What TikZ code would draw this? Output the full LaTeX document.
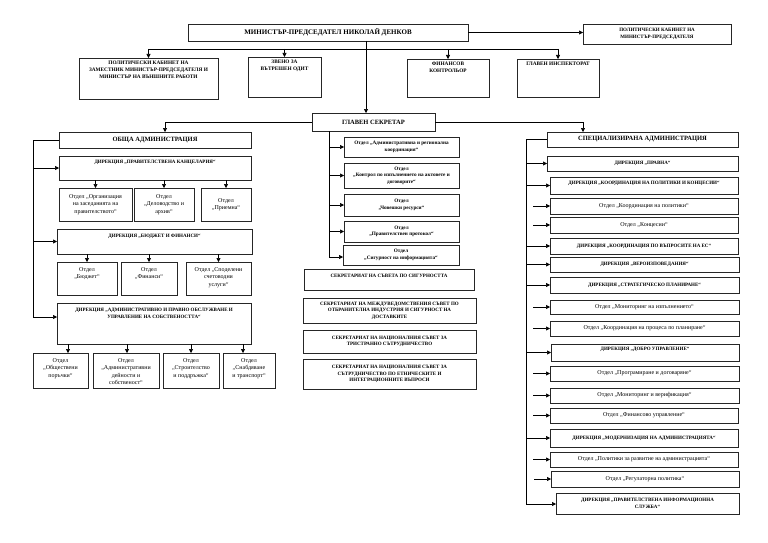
\documentclass[tikz,border=0pt]{standalone}
\usepackage{fontspec}
\setmainfont{Liberation Serif}
\usetikzlibrary{arrows.meta}
\newcommand\fpm{\bfseries\fontsize{7}{8}\selectfont}
\newcommand\fmidb{\bfseries\fontsize{6.5}{7.5}\selectfont}
\newcommand\fsmb{\bfseries\fontsize{5}{6.5}\selectfont}
\newcommand\ftopb{\bfseries\fontsize{5.3}{6.8}\selectfont}
\newcommand\fmb{\bfseries\fontsize{5.2}{6.6}\selectfont}
\newcommand\freg{\fontsize{6}{7.6}\selectfont}
\tikzset{
  boxst/.style={draw=black!85, line width=0.7pt, rectangle, inner sep=0pt, outer sep=0pt},
  txt/.style={align=center, inner sep=0pt, text=black},
  conn/.style={draw=black, line width=0.6pt},
  arr/.style={conn, -{Triangle[length=4pt,width=4pt]}}
}
\newcommand\bx[7]{%
  \node[boxst, anchor=north west, minimum width={(#4-#2)*1pt}, minimum height={(#5-#3)*1pt}] (#1) at (#2,#3) {};
  \node[txt, font=#6] (#1t) at (#1.center) {#7};}
\newcommand\bxt[8]{%
  \node[boxst, anchor=north west, minimum width={(#4-#2)*1pt}, minimum height={(#5-#3)*1pt}] (#1) at (#2,#3) {};
  \node[txt, font=#6, anchor=north] (#1t) at ([yshift=-#8pt]#1.north) {#7};}
\begin{document}
\begin{tikzpicture}[x=1pt,y=-1pt]
\fill[white] (0,0) rectangle (768,543);
\useasboundingbox (0,0) rectangle (768,543);
% top
\bx{pm}{188}{24}{468}{41}{\fpm}{МИНИСТЪР-ПРЕДСЕДАТЕЛ НИКОЛАЙ ДЕНКОВ}
\bx{pcpm}{583}{24}{731}{44}{\fsmb}{ПОЛИТИЧЕСКИ КАБИНЕТ НА\\МИНИСТЪР-ПРЕДСЕДАТЕЛЯ}
\bxt{pcz}{79}{58}{218}{99}{\ftopb}{ПОЛИТИЧЕСКИ КАБИНЕТ НА\\ЗАМЕСТНИК МИНИСТЪР-ПРЕДСЕДАТЕЛЯ И\\МИНИСТЪР НА ВЪНШНИТЕ РАБОТИ}{3}
\bxt{audit}{248}{57}{321}{97}{\ftopb}{ЗВЕНО ЗА\\ВЪТРЕШЕН ОДИТ}{3}
\bxt{fin}{407}{59}{489}{97}{\ftopb}{ФИНАНСОВ\\КОНТРОЛЬОР}{3}
\bxt{insp}{517}{59}{599}{97}{\ftopb}{ГЛАВЕН ИНСПЕКТОРАТ}{3}
\bx{gs}{312}{113}{435}{131}{\fmidb}{ГЛАВЕН СЕКРЕТАР}
% left
\bx{oa}{59}{132}{251}{148}{\fmidb}{ОБЩА АДМИНИСТРАЦИЯ}
\bxt{dpk}{59}{156}{251}{180}{\fsmb}{ДИРЕКЦИЯ „ПРАВИТЕЛСТВЕНА КАНЦЕЛАРИЯ“}{4}
\bx{o1}{59}{188}{132}{221}{\freg}{Отдел „Организация\\на заседанията на\\правителството“}
\bx{o2}{134}{188}{194}{221}{\freg}{Отдел\\„Деловодство и\\архив“}
\bx{o3}{201}{188}{251}{221}{\freg}{Отдел\\„Приемна“}
\bxt{dbf}{57}{229}{252}{254}{\fsmb}{ДИРЕКЦИЯ „БЮДЖЕТ И ФИНАНСИ“}{5}
\bxt{f1}{57}{262}{117}{295}{\freg}{Отдел\\„Бюджет“}{5}
\bxt{f2}{121}{262}{177}{295}{\freg}{Отдел\\„Финанси“}{5}
\bxt{f3}{186}{262}{251}{295}{\freg}{Отдел „Споделени\\счетоводни\\услуги“}{5}
\bxt{dap}{57}{303}{251}{344}{\fsmb}{ДИРЕКЦИЯ „АДМИНИСТРАТИВНО И ПРАВНО ОБСЛУЖВАНЕ И\\УПРАВЛЕНИЕ НА СОБСТВЕНОСТТА“}{5}
\bxt{a1}{33}{353}{88}{388}{\freg}{Отдел\\„Обществени\\поръчки“}{5}
\bxt{a2}{93}{353}{159}{388}{\freg}{Отдел\\„Административни\\дейности и\\собственост“}{5}
\bxt{a3}{163}{353}{219}{388}{\freg}{Отдел\\„Строителство\\и поддръжка“}{5}
\bxt{a4}{223}{353}{275}{388}{\freg}{Отдел\\„Снабдяване\\и транспорт“}{5}
% middle
\bx{m1}{344}{137}{459}{157}{\fmb}{Отдел „Административна и регионална\\координация“}
\bx{m2}{344}{163}{459}{188}{\fmb}{Отдел\\„Контрол по изпълнението на актовете и\\договорите“}
\bx{m3}{344}{194}{459}{216}{\fmb}{Отдел\\„Човешки ресурси“}
\bx{m4}{344}{221}{459}{242}{\fmb}{Отдел\\„Правителствен протокол“}
\bx{m5}{343}{245}{459}{265}{\fmb}{Отдел\\„Сигурност на информацията“}
\bxt{s1}{304}{269}{474}{290}{\fsmb}{СЕКРЕТАРИАТ НА СЪВЕТА ПО СИГУРНОСТТА}{5}
\bx{s2}{303}{298}{476}{323}{\fsmb}{СЕКРЕТАРИАТ НА МЕЖДУВЕДОМСТВЕНИЯ СЪВЕТ ПО\\ОТБРАНИТЕЛНА ИНДУСТРИЯ И СИГУРНОСТ НА\\ДОСТАВКИТЕ}
\bx{s3}{303}{330}{476}{353}{\fsmb}{СЕКРЕТАРИАТ НА НАЦИОНАЛНИЯ СЪВЕТ ЗА\\ТРИСТРАННО СЪТРУДНИЧЕСТВО}
\bx{s4}{303}{359}{476}{389}{\fsmb}{СЕКРЕТАРИАТ НА НАЦИОНАЛНИЯ СЪВЕТ ЗА\\СЪТРУДНИЧЕСТВО ПО ЕТНИЧЕСКИТЕ И\\ИНТЕГРАЦИОННИТЕ ВЪПРОСИ}
% right
\bx{sa}{547}{132}{738}{147}{\fmidb}{СПЕЦИАЛИЗИРАНА АДМИНИСТРАЦИЯ}
\bx{r1}{547}{156}{738}{171}{\fsmb}{ДИРЕКЦИЯ „ПРАВНА“}
\bxt{r2}{550}{177}{738}{194}{\fsmb}{ДИРЕКЦИЯ „КООРДИНАЦИЯ НА ПОЛИТИКИ И КОНЦЕСИИ“}{4}
\bx{r3}{550}{198}{738}{214}{\freg}{Отдел „Координация на политики“}
\bx{r4}{550}{217}{738}{233}{\freg}{Отдел „Концесии“}
\bx{r5}{550}{238}{738}{254}{\fsmb}{ДИРЕКЦИЯ „КООРДИНАЦИЯ ПО ВЪПРОСИТЕ НА ЕС“}
\bx{r6}{550}{257}{739}{272}{\fsmb}{ДИРЕКЦИЯ „ВЕРОИЗПОВЕДАНИЯ“}
\bx{r7}{550}{277}{739}{293}{\fsmb}{ДИРЕКЦИЯ „СТРАТЕГИЧЕСКО ПЛАНИРАНЕ“}
\bx{r8}{550}{300}{739}{314}{\freg}{Отдел „Мониторинг на изпълнението“}
\bx{r9}{550}{321}{739}{336}{\freg}{Отдел „Координация на процеса по планиране“}
\bxt{r10}{551}{344}{739}{361}{\fsmb}{ДИРЕКЦИЯ „ДОБРО УПРАВЛЕНИЕ“}{3}
\bx{r11}{550}{366}{739}{381}{\freg}{Отдел „Програмиране и договаряне“}
\bx{r12}{550}{388}{739}{403}{\freg}{Отдел „Мониторинг и верификация“}
\bx{r13}{550}{408}{738}{423}{\freg}{Отдел „Финансово управление“}
\bx{r14}{550}{429}{738}{447}{\fsmb}{ДИРЕКЦИЯ „МОДЕРНИЗАЦИЯ НА АДМИНИСТРАЦИЯТА“}
\bx{r15}{550}{452}{738}{467}{\freg}{Отдел „Политики за развитие на администрацията“}
\bx{r16}{551}{471}{739}{487}{\freg}{Отдел „Регулаторна политика“}
\bx{r17}{556}{493}{739}{514}{\fsmb}{ДИРЕКЦИЯ „ПРАВИТЕЛСТВЕНА ИНФОРМАЦИОННА\\СЛУЖБА“}
% connectors top
\coordinate (pmtap) at ([xshift=38pt]pm.south);
\coordinate (tbus) at (366,49);
\draw[arr] (pmtap) -- (pmtap |- gs.north);
\draw[arr] (pm.east) -- (pm.east -| pcpm.west);
\draw[conn] (pcz.north |- tbus) -- (insp.north |- tbus);
\foreach \n in {pcz,audit,fin,insp} \draw[arr] (\n.north |- tbus) -- (\n.north);
% from ГЛАВЕН СЕКРЕТАР
\coordinate (gl) at ([xshift=10pt]oa.north);
\coordinate (gr) at ([xshift=-59.5pt]sa.north);
\draw[arr] (gs.west) -| (gl);
\draw[arr] (gs.east) -| (gr);
% left bus
\coordinate (lb) at (33,317);
\draw[conn] (oa.west) -| (lb);
\draw[arr] (dpk.west -| lb) -- (dpk.west);
\draw[arr] (dbf.west -| lb) -- (dbf.west);
\draw[arr] (lb) -- (lb -| dap.west);
\foreach \n in {o1,o2,o3} \draw[arr] (dpk.south -| \n.north) -- (\n.north);
\foreach \n in {f1,f2,f3} \draw[arr] (dbf.south -| \n.north) -- (\n.north);
\coordinate (a1t) at ([xshift=7.5pt]a1.north);
\coordinate (a2t) at ([xshift=1pt]a2.north);
\coordinate (a3t) at (a3.north);
\coordinate (a4t) at ([xshift=-6pt]a4.north);
\foreach \n in {a1t,a2t,a3t,a4t} \draw[arr] (dap.south -| \n) -- (\n);
% middle bus
\coordinate (mb) at (329,257);
\draw[conn] (gs.south -| mb) -- (mb);
\foreach \n in {m1,m2,m3,m4} \draw[arr] (\n.west -| mb) -- (\n.west);
\draw[arr] (mb) -- (mb -| m5.west);
% right bus
\coordinate (rb) at (526,504);
\draw[conn] (sa.west) -| (rb);
\foreach \n in {r1,r2,r5,r6,r7,r10,r14} \draw[arr] (\n.west -| rb) -- (\n.west);
\draw[arr] (rb) -- (rb -| r17.west);
\foreach \n in {r3,r4,r8,r9,r11,r12,r13,r15,r16} \draw[arr] ([xshift=-17pt]\n.west) -- (\n.west);
\end{tikzpicture}
\end{document}
